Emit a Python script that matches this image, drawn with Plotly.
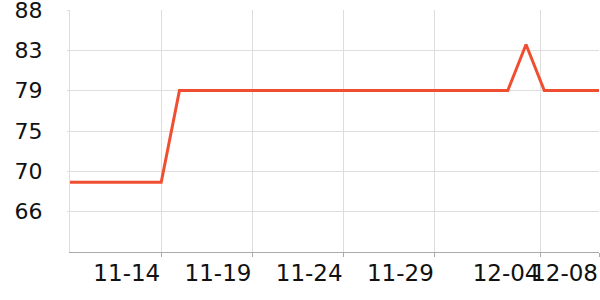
import plotly.graph_objects as go
import pandas as pd

dates = pd.date_range("2023-11-09", "2023-12-08", freq="D").strftime("%Y-%m-%d").tolist()
values = [69.5] * 6 + [79.35] * 19 + [84.3] + [79.35] * 4

x_tick_vals = ["2023-11-14", "2023-11-19", "2023-11-24", "2023-11-29", "2023-12-04 19:00", "2023-12-08"]
x_tick_text = ["11-14", "11-19", "11-24", "11-29", "12-04", "12-08"]

y_min, y_max = 62, 88
y_tick_vals = [round(y_min + k * (y_max - y_min) / 6, 6) for k in range(1, 7)]
y_tick_text = ["66", "70", "75", "79", "83", "88"]

fig = go.Figure()
fig.add_trace(go.Scatter(
    x=dates, y=values, mode="lines",
    line=dict(color="#f04e30", width=3),
    hoverinfo="skip",
))

fig.update_layout(
    width=600, height=300,
    margin=dict(l=70, r=1, t=10, b=48, autoexpand=False),
    paper_bgcolor="white", plot_bgcolor="white",
    showlegend=False,
    font=dict(family="DejaVu Sans", size=23, color="#111"),
)
fig.update_xaxes(
    type="date",
    range=[dates[0], dates[-1]],
    tickvals=x_tick_vals, ticktext=x_tick_text,
    ticklabelposition="outside left",
    ticklabeloverflow="allow",
    tickangle=0,
    automargin=False,
    showgrid=True, gridcolor="#dddddd", gridwidth=1,
    showline=True, linecolor="#aaaaaa", linewidth=1,
    ticks="outside", ticklen=4, tickcolor="#aaaaaa",
    zeroline=False,
)
fig.update_yaxes(
    range=[y_min, y_max + 0.002],
    tickvals=y_tick_vals, ticktext=y_tick_text,
    tickfont=dict(size=22),
    ticklabeloverflow="allow",
    automargin=False,
    showgrid=True, gridcolor="#dddddd", gridwidth=1,
    showline=True, linecolor="#dddddd", linewidth=1,
    ticks="outside", ticklen=2, tickcolor="#dddddd",
    ticklabelstandoff=20,
    zeroline=False,
)

fig.write_html("out.html")
